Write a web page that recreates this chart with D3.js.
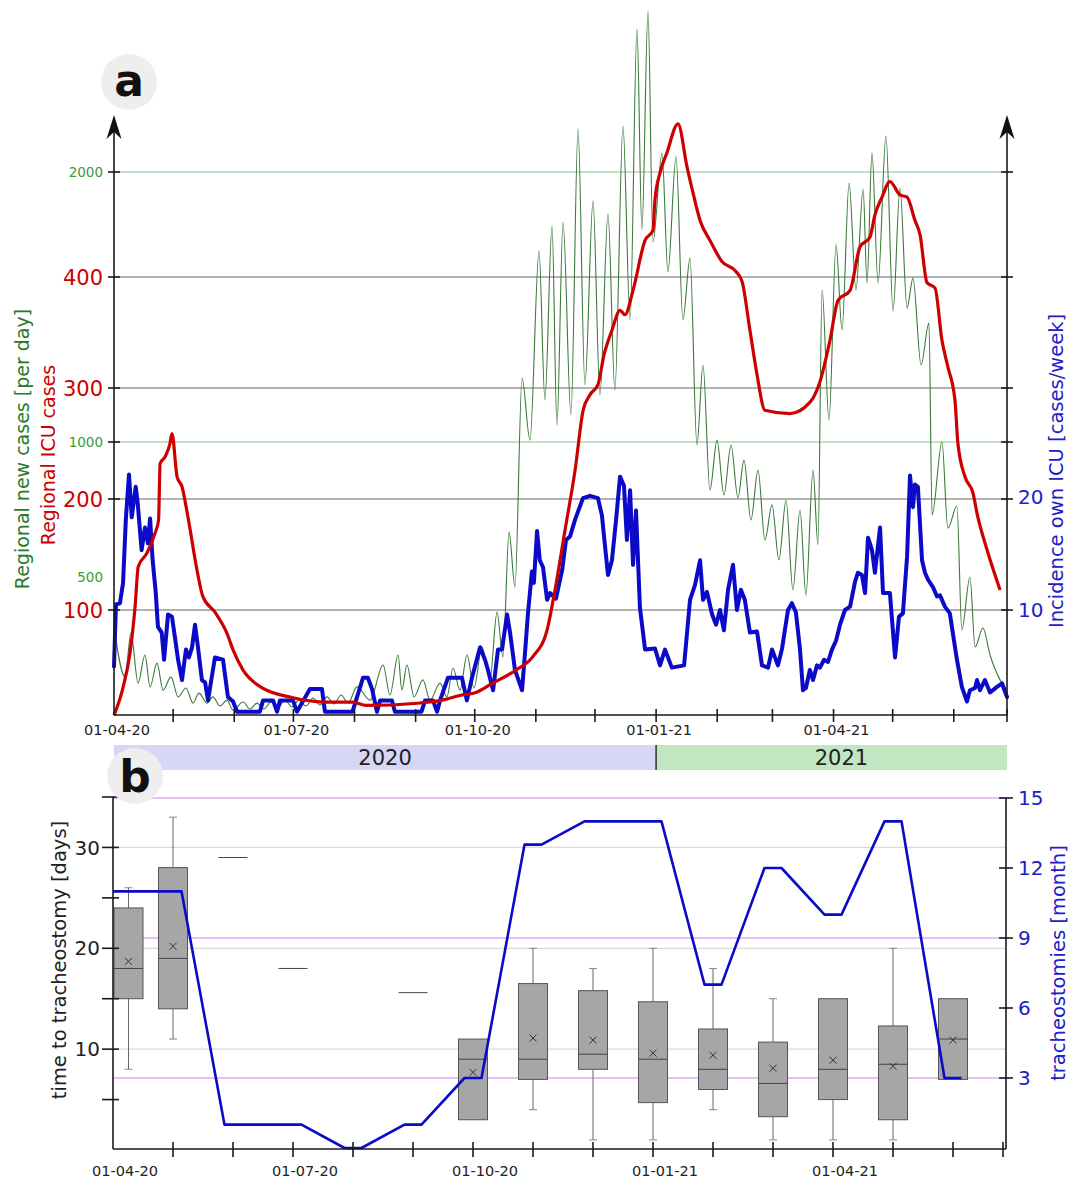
<!DOCTYPE html>
<html><head><meta charset="utf-8">
<script src="https://cdn.jsdelivr.net/npm/d3@7"></script>
<style>body{margin:0;background:#fff}svg{font-family:"DejaVu Sans",Verdana,sans-serif}</style>
</head><body>
<svg id="c" width="1077" height="1179"></svg>
<script>
// ---------- DATA ----------
const startDate = "2020-04-01";
const endDate = "2021-06-28";
// panel a: [days since start, value]
const icuCases = [[0,5],[4.7,31],[8.1,61],[10.7,103],[12.3,139],[16.6,151],[20.8,169],[22.6,181],[23.4,232],[25.9,238],[28.4,250],[29.4,259],[32,220],[34.5,211],[37.5,184],[42.1,136],[45.1,112],[51.2,98],[57.3,79],[60.4,64],[65.4,46],[74.1,31],[90.8,21],[108,17],[121,17],[128,14],[154,16],[167,19],[175.5,23],[184,26],[192,34],[204,46],[212.5,58],[219.7,82],[223.7,118],[228.8,172],[233.9,226],[238,280],[241.5,294],[245.5,303],[248.6,330],[252.6,352],[256.7,370],[259.2,366],[263.3,388],[269.4,433],[273.4,442],[274.4,469],[277,494],[280.5,512],[286.1,538],[290.7,499],[293.7,476],[297.3,451],[302.3,433],[308.4,414],[315.5,405],[318.6,396],[322.6,352],[326.2,312],[330.2,280],[342.9,277],[353,287],[358,305],[363.2,343],[367.3,379],[373.4,388],[378.4,427],[383.5,436],[386,456],[389.6,472],[393.6,486],[398.7,474],[402.3,472],[406.3,451],[408.9,438],[412.4,395],[416.5,390],[420,343],[423,319],[426.6,289],[428.1,250],[431.7,220],[435.8,205],[437.8,187],[442.9,154],[449.5,118]];
const newCases = [[0,315],[5.6,130],[8.6,293],[12.2,107],[15.7,211],[18.3,93],[21.8,181],[24.9,81],[28.9,130],[32.5,56],[36.5,89],[40.1,33],[43.1,70],[47.2,33],[50.2,56],[53.8,22],[57.3,44],[60.4,7],[65.4,37],[69,11],[72.5,33],[76.1,11],[79.6,37],[83.2,15],[86.7,44],[90.3,19],[93.8,44],[97.4,22],[101,52],[104.5,26],[108,56],[111.6,30],[115.2,63],[118.7,33],[123.3,93],[129.9,44],[136.5,174],[140,63],[144.1,211],[146,81],[148.6,174],[152.2,56],[156.7,119],[160.3,44],[165.4,107],[168.9,56],[172,163],[175.5,81],[179.1,211],[182.6,89],[186.7,241],[190.7,119],[194.3,370],[197.3,204],[200.4,667],[203.4,463],[207,1237],[211,1007],[215.6,1707],[218.6,1156],[222.2,1800],[224.7,1063],[227.8,1815],[231.8,1100],[235.4,2159],[238.9,1211],[243,1893],[246.5,1174],[250.6,1844],[254.1,1193],[258.2,2170],[261.8,1452],[265.3,2530],[267.8,1785],[270.9,2596],[273.4,1741],[278,2070],[281,1630],[285.1,2056],[288.6,1452],[292.2,1681],[295.7,989],[298.8,1285],[302.3,822],[305.9,1007],[309.4,804],[313,989],[316.5,793],[319.6,933],[323.1,711],[326.7,896],[330.2,637],[333.8,767],[337.3,563],[340.9,785],[344.4,452],[348,748],[351,433],[354.6,896],[357.1,619],[359.2,1563],[362.7,1081],[366.3,1730],[369.3,1415],[372.9,1959],[376.4,1563],[380,1937],[382,1589],[384.5,2070],[387.6,1589],[391.6,2133],[395.2,1485],[398.7,1941],[402.3,1496],[405.3,1607],[409.4,1285],[413.4,1441],[415,730],[420,1000],[423,681],[427.6,763],[430.1,304],[434.2,500],[436.8,241],[440.8,311],[444.4,211],[449.5,119],[453,81]];
const ownIcu = [[0,5],[1,10.5],[3,10.6],[4.6,12.4],[6,18],[7.6,22],[9,18.2],[11,20.9],[12,19.5],[14,15.3],[15.7,17.3],[17.2,15.9],[18.3,18.1],[19.6,14.4],[21.2,11.5],[22.3,8.5],[24.2,8],[25.4,5.6],[27.4,9.6],[29.4,9.4],[30.9,7.6],[32.5,5.6],[34.5,3.8],[36.5,6.5],[38,5.8],[39.6,6.7],[41.1,8.7],[42.6,6.7],[44.6,3.8],[46.2,3.6],[47.7,2],[51.2,5.8],[55.3,5.6],[57.8,2.3],[60.4,1.9],[62.4,1],[74,1],[75.6,2],[80.7,2],[82.7,1],[84.2,2],[90.8,2],[92.8,1],[99.4,3],[105.5,3],[107,1],[121,1],[126.3,4],[128.8,4],[130.9,3],[133.4,1],[135,2],[141,2],[142.5,1],[156,1],[157.8,2],[161.8,2],[163.9,1],[165.4,2],[169.4,4],[176.5,4],[179,2],[181.6,4],[185.7,6.7],[188.2,5.6],[189.7,4.7],[192.3,2.9],[194.8,6.5],[196.8,6.5],[199.4,9.6],[200.9,8],[203.4,4.7],[207,2.9],[208.5,6.2],[210,9.7],[212,13.4],[213,12.4],[214.6,17],[216,14.4],[217.6,13.8],[219.7,10.9],[221.2,11.5],[224.2,11],[227.3,13.5],[229.3,16.2],[231.3,16.5],[233.9,18],[237.9,19.9],[241.5,20.1],[245.5,19.9],[247.5,18.4],[249,15.8],[250.6,13.1],[252.6,14.4],[254.7,18],[256.7,21.8],[258.7,21],[260.2,16.2],[261.8,20.6],[263.3,14],[264.8,18.8],[266.8,10.2],[269.4,6.5],[274.4,6.6],[277,5.1],[279.5,6.5],[283,4.9],[289.2,5.1],[292.2,10.9],[294.7,12.2],[297.3,14.4],[298.8,10.9],[300.8,11.6],[303.4,9.6],[305.4,8.7],[307.4,10],[309.4,8.2],[311.5,11.8],[314,14],[316,10],[318,11.8],[320,10.9],[322.6,8],[326.2,8.1],[328.7,5.1],[331.8,4.9],[333.8,6.5],[336.8,5.1],[338.9,6.6],[341.9,10],[343.9,10.6],[345.9,9.8],[348,6.5],[349.5,2.9],[351,3.1],[353,4.7],[354.6,3.8],[356.6,5.1],[358.1,4.9],[360.2,5.6],[362.2,5.4],[364.2,6.5],[366.3,7.3],[368.3,8.7],[370.8,10],[373.4,10.3],[375.9,12.5],[377.4,13.3],[379.4,13.1],[381,11.5],[382.5,16.4],[384.5,15.3],[386,13.3],[388.6,17.3],[390.1,11.5],[393.6,11.5],[396.2,5.8],[398.2,9.4],[400.2,9.7],[402.3,14.7],[403.8,21.9],[405.3,19.1],[406.3,21.1],[407.8,20.9],[409.9,14.4],[411.4,13.3],[412.9,12.7],[415.5,12],[417.5,11.2],[419,11.3],[421.5,10.3],[424,9.7],[427.6,5.6],[430.1,3.2],[432.7,1.9],[434.2,2.9],[436.8,3.1],[437.8,3.8],[439.3,2.9],[441.8,3.8],[444.4,2.7],[447.9,3.2],[450.5,3.5],[453,2.3]];
const redTicks = [100, 200, 300, 400];
const greenTicks = [500, 1000, 2000];
const blueTicks = [10, 20];
const dateLabels = ["2020-04-01","2020-07-01","2020-10-01","2021-01-01","2021-04-01"];
const years = [["2020","2020-04-01","2021-01-01"],["2021","2021-01-01","2021-06-28"]];

// panel b: monthly data
const months = ["2020-04-01","2020-05-01","2020-06-01","2020-07-01","2020-08-01","2020-09-01","2020-10-01","2020-11-01","2020-12-01","2021-01-01","2021-02-01","2021-03-01","2021-04-01","2021-05-01","2021-06-01"];
const tracheostomies = [11,11,1,1,0,1,3,13,14,14,7,12,10,14,3];
const wMin   = [8, 11, 29, 18, null, 15.6, 3, 4, 1, 1, 4, 1, 1, 1, 7];
const q1     = [15,14, 29, 18, null, 15.6, 3, 7, 8, 4.7, 6, 3.3, 5, 3, 7];
const median = [18,19, 29, 18, null, 15.6, 9, 9, 9.5, 9, 8, 6.6, 8, 8.5, 11];
const q3     = [24,28, 29, 18, null, 15.6, 11, 16.5, 15.8, 14.7, 12, 10.7, 15, 12.3, 15];
const wMax   = [26,33, 29, 18, null, 15.6, 11, 20, 18, 20, 18, 15, 15, 20, 15];
const mean   = [18.7,20.2, null, null, null, null, 7.7, 11.1, 10.9, 9.6, 9.4, 8.1, 8.9, 8.3, 10.9];
const dayTicks = [5,10,15,20,25,30,35];
const dayLabels = [10,20,30];
const trachTicks = [3,6,9,12,15];

// ---------- SETUP ----------
const svg = d3.select("#c");
const P = d3.utcParse("%Y-%m-%d");
const t0 = P(startDate), t1 = P(endDate);
const dd = d => new Date(t0.getTime() + d*864e5);
const FONT_COL = "#222";

// ===== PANEL A =====
const A = {l:114, r:1007, b:715, top:115};
const x = d3.scaleUtc().domain([t0,t1]).range([A.l, A.r]);
const yR = d3.scaleLinear().domain([0,400]).range([721,277]);
const yG = d3.scaleLinear().domain([0,2000]).range([712,172]);
const yB = d3.scaleLinear().domain([10,20]).range([610,497]);

const ga = svg.append("g");
greenTicks.filter(v=>v!==500).forEach(v=>{
  ga.append("line").attr("x1",A.l).attr("x2",A.r).attr("y1",yG(v)).attr("y2",yG(v))
    .attr("stroke","#8cc08c").attr("stroke-width",1.2);
});
redTicks.forEach(v=>{
  ga.append("line").attr("x1",A.l).attr("x2",A.r).attr("y1",yR(v)).attr("y2",yR(v))
    .attr("stroke","#666").attr("stroke-width",1.2);
});

ga.append("path").datum(newCases).attr("fill","none").attr("stroke","#3b7a3b").attr("stroke-width",1.1)
  .attr("d", d3.line().curve(d3.curveMonotoneX).x(d=>x(dd(d[0]))).y(d=>yG(d[1])));
ga.append("path").datum(ownIcu).attr("fill","none").attr("stroke","#0a0ac8").attr("stroke-width",4)
  .attr("stroke-linejoin","round").attr("stroke-linecap","round")
  .attr("d", d3.line().x(d=>x(dd(d[0]))).y(d=>yB(d[1])));
ga.append("path").datum(icuCases).attr("fill","none").attr("stroke","#cc0000").attr("stroke-width",3.2)
  .attr("stroke-linejoin","round")
  .attr("d", d3.line().curve(d3.curveMonotoneX).x(d=>x(dd(d[0]))).y(d=>yR(d[1])));

const axCol = "#1a1a1a";
[A.l, A.r].forEach(xx=>{
  ga.append("line").attr("x1",xx).attr("x2",xx).attr("y1",A.b).attr("y2",A.top+12)
    .attr("stroke",axCol).attr("stroke-width",1.6);
  ga.append("path").attr("d",`M${xx},${A.top} L${xx-7.5},${A.top+24} L${xx},${A.top+17} L${xx+7.5},${A.top+24} Z`).attr("fill","#111");
});
ga.append("line").attr("x1",A.l).attr("x2",A.r).attr("y1",A.b).attr("y2",A.b).attr("stroke",axCol).attr("stroke-width",1.6);

const tickYs = [yG(2000), yR(400), yR(300), yG(1000), yR(200), yR(100)];
tickYs.forEach(yy=>{
  ga.append("line").attr("x1",A.l-6).attr("x2",A.l+6).attr("y1",yy).attr("y2",yy).attr("stroke",axCol).attr("stroke-width",1.6);
  ga.append("line").attr("x1",A.r-6).attr("x2",A.r+6).attr("y1",yy).attr("y2",yy).attr("stroke",axCol).attr("stroke-width",1.6);
});
redTicks.forEach(v=>{
  ga.append("text").attr("x",103).attr("y",yR(v)).attr("dy","0.36em").attr("text-anchor","end")
    .attr("font-size",21).attr("fill","#cc0000").text(v);
});
greenTicks.forEach(v=>{
  ga.append("text").attr("x",103).attr("y",yG(v)).attr("dy","0.36em").attr("text-anchor","end")
    .attr("font-size",13.5).attr("fill","#3a9a3a").text(v);
});
blueTicks.forEach(v=>{
  ga.append("text").attr("x",1018).attr("y",yB(v)).attr("dy","0.36em").attr("text-anchor","start")
    .attr("font-size",20).attr("fill","#2020c8").text(v);
});
const monthTicks = d3.utcMonth.range(d3.utcMonth.offset(t0,1), t1);
monthTicks.concat([t1]).forEach(t=>{
  ga.append("line").attr("x1",x(t)).attr("x2",x(t)).attr("y1",A.b-6).attr("y2",A.b+7).attr("stroke",axCol).attr("stroke-width",1.6);
});
const fmt = d3.utcFormat("%d-%m-%y");
dateLabels.forEach(s=>{
  ga.append("text").attr("x",x(P(s))+3).attr("y",735).attr("text-anchor","middle")
    .attr("font-size",14.5).attr("fill",FONT_COL).text(fmt(P(s)));
});
ga.append("text").attr("transform","translate(29,449) rotate(-90)").attr("text-anchor","middle")
  .attr("font-size",19).attr("fill","#2a7a2a").text("Regional new cases [per day]");
ga.append("text").attr("transform","translate(55,455) rotate(-90)").attr("text-anchor","middle")
  .attr("font-size",19).attr("fill","#cc0000").text("Regional ICU cases");
ga.append("text").attr("transform","translate(1063,471) rotate(-90)").attr("text-anchor","middle")
  .attr("font-size",19.5).attr("fill","#2020c8").text("Incidence own ICU [cases/week]");

const yearFill = {"2020":"#d7d7f5","2021":"#c2e5c2"};
years.forEach(([lab,s,e])=>{
  ga.append("rect").attr("x",x(P(s))).attr("width",x(P(e))-x(P(s))).attr("y",745).attr("height",25).attr("fill",yearFill[lab]);
});
ga.append("line").attr("x1",x(P("2021-01-01"))).attr("x2",x(P("2021-01-01"))).attr("y1",745).attr("y2",770).attr("stroke","#333").attr("stroke-width",1.5);
ga.append("text").attr("x",(x(P("2020-04-01"))+x(P("2021-01-01")))/2).attr("y",765).attr("text-anchor","middle").attr("font-size",21).attr("fill","#222").text("2020");
ga.append("text").attr("x",(x(P("2021-01-01"))+x(P("2021-07-08")))/2).attr("y",765).attr("text-anchor","middle").attr("font-size",21).attr("fill","#222").text("2021");

// ===== PANEL B =====
const B = {l:113, r:1006, b:1149, top:797};
const mDates = months.map(P);
const xb = d3.scaleUtc().domain(mDates.concat([P("2021-07-01")])).range(mDates.concat([0]).map((d,i)=>B.l + i*60));
const yD = d3.scaleLinear().domain([0,35]).range([1150,797]);
const yT = d3.scaleLinear().domain([0,15]).range([1148,798]);
const gb = svg.append("g");

dayLabels.forEach(v=>{
  gb.append("line").attr("x1",B.l).attr("x2",B.r).attr("y1",yD(v)).attr("y2",yD(v)).attr("stroke","#dadada").attr("stroke-width",1.2);
});
[3,9,15].forEach(v=>{
  gb.append("line").attr("x1",B.l).attr("x2",B.r).attr("y1",yT(v)).attr("y2",yT(v)).attr("stroke","#dcaaf2").attr("stroke-width",1.3);
});

const bw = 29;
months.forEach((m,i)=>{
  if (q1[i]===null) return;
  const c = Math.max(xb(P(m)), B.l + bw/2 + 1);
  const g = gb.append("g");
  if (wMax[i] > q3[i]) {
    g.append("line").attr("x1",c).attr("x2",c).attr("y1",yD(q3[i])).attr("y2",yD(wMax[i])).attr("stroke","#666");
    g.append("line").attr("x1",c-4).attr("x2",c+4).attr("y1",yD(wMax[i])).attr("y2",yD(wMax[i])).attr("stroke","#888");
  }
  if (wMin[i] < q1[i]) {
    g.append("line").attr("x1",c).attr("x2",c).attr("y1",yD(q1[i])).attr("y2",yD(wMin[i])).attr("stroke","#666");
    g.append("line").attr("x1",c-4).attr("x2",c+4).attr("y1",yD(wMin[i])).attr("y2",yD(wMin[i])).attr("stroke","#888");
  }
  if (q3[i] > q1[i]) {
    g.append("rect").attr("x",c-bw/2).attr("width",bw).attr("y",yD(q3[i])).attr("height",yD(q1[i])-yD(q3[i]))
      .attr("fill","#a6a6a6").attr("stroke","#555").attr("stroke-width",1);
  }
  g.append("line").attr("x1",c-bw/2).attr("x2",c+bw/2).attr("y1",yD(median[i])).attr("y2",yD(median[i])).attr("stroke","#444").attr("stroke-width",1);
  if (mean[i]!==null) {
    const my = yD(mean[i]);
    g.append("path").attr("d",`M${c-3.5},${my-3.5}L${c+3.5},${my+3.5}M${c-3.5},${my+3.5}L${c+3.5},${my-3.5}`).attr("stroke","#333").attr("stroke-width",1);
  }
});

const half = 8.5;
const trPts = [];
months.forEach((m,i)=>{
  const c = xb(P(m));
  trPts.push([Math.max(c-half, B.l), tracheostomies[i]]);
  trPts.push([c+half, tracheostomies[i]]);
});
gb.append("path").datum(trPts).attr("fill","none").attr("stroke","#0a0ac8").attr("stroke-width",2.6).attr("stroke-linejoin","round")
  .attr("d", d3.line().x(d=>d[0]).y(d=>yT(d[1])));

gb.append("line").attr("x1",B.l).attr("x2",B.l).attr("y1",B.b).attr("y2",B.top).attr("stroke",axCol).attr("stroke-width",1.6);
gb.append("line").attr("x1",B.r).attr("x2",B.r).attr("y1",B.b).attr("y2",B.top+1).attr("stroke",axCol).attr("stroke-width",1.6);
gb.append("line").attr("x1",B.l).attr("x2",B.r).attr("y1",B.b).attr("y2",B.b).attr("stroke",axCol).attr("stroke-width",1.6);
dayTicks.forEach(v=>{
  gb.append("line").attr("x1",B.l-11).attr("x2",B.l+6).attr("y1",yD(v)).attr("y2",yD(v)).attr("stroke",axCol).attr("stroke-width",1.6);
});
dayLabels.forEach(v=>{
  gb.append("text").attr("x",100).attr("y",yD(v)).attr("dy","0.36em").attr("text-anchor","end").attr("font-size",20).attr("fill",FONT_COL).text(v);
});
trachTicks.forEach(v=>{
  gb.append("line").attr("x1",B.r-7).attr("x2",B.r+7).attr("y1",yT(v)).attr("y2",yT(v)).attr("stroke",axCol).attr("stroke-width",1.6);
  gb.append("text").attr("x",1018).attr("y",yT(v)).attr("dy","0.36em").attr("text-anchor","start").attr("font-size",20).attr("fill","#2020c8").text(v);
});
mDates.slice(1).map(xb).concat([B.r-3]).forEach(xx=>{
  gb.append("line").attr("x1",xx).attr("x2",xx).attr("y1",B.b-7).attr("y2",B.b+8).attr("stroke",axCol).attr("stroke-width",1.6);
});
dateLabels.forEach(s=>{
  gb.append("text").attr("x",xb(P(s))+12).attr("y",1176).attr("text-anchor","middle").attr("font-size",14.5).attr("fill",FONT_COL).text(fmt(P(s)));
});
gb.append("text").attr("transform","translate(66,960) rotate(-90)").attr("text-anchor","middle")
  .attr("font-size",19.5).attr("fill",FONT_COL).text("time to tracheostomy [days]");
gb.append("text").attr("transform","translate(1065,963) rotate(-90)").attr("text-anchor","middle")
  .attr("font-size",19.5).attr("fill","#2020c8").text("tracheostomies [month]");

[["a",129,82,96],["b",135,776,792]].forEach(([t,cx,cy,by])=>{
  svg.append("circle").attr("cx",cx).attr("cy",cy).attr("r",28).attr("fill","#eeeeee");
  svg.append("text").attr("x",cx).attr("y",by).attr("text-anchor","middle").attr("font-size",44).attr("font-weight","bold").attr("fill","#111").text(t);
});
</script>
</body></html>
